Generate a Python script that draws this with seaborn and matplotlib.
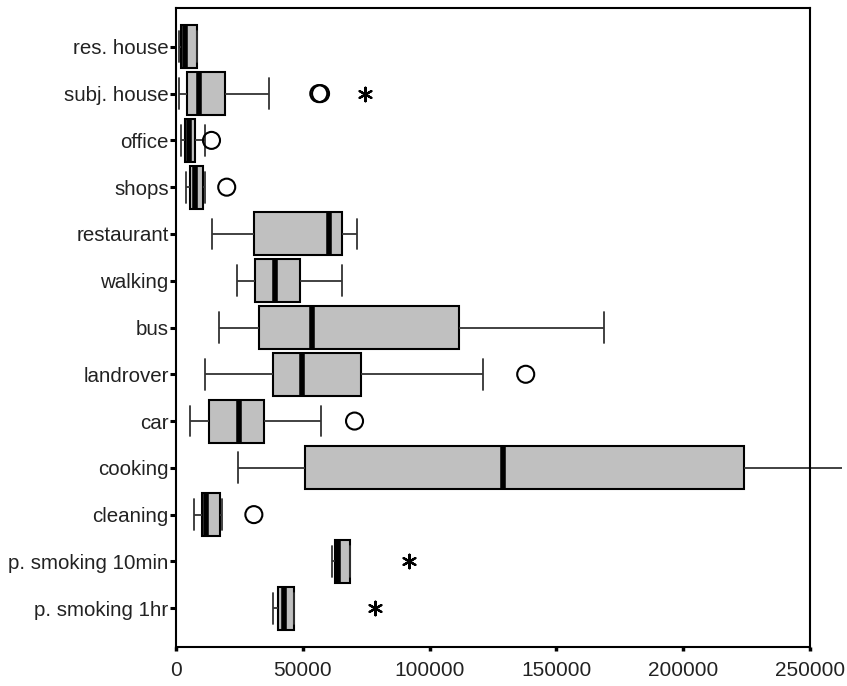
import numpy as np
import pandas as pd
import matplotlib
matplotlib.use("Agg")
import matplotlib.pyplot as plt
import seaborn as sns

categories = ["res. house", "subj. house", "office", "shops", "restaurant",
              "walking", "bus", "landrover", "car", "cooking", "cleaning",
              "p. smoking 10min", "p. smoking 1hr"]
whisker_low = [1000, 1300, 2000, 4000, 14100, 24000, 17100, 11600, 5700, 24600, 7000, 61500, 38200]
q1 = [2000, 4200, 3600, 5600, 30700, 31300, 32900, 38200, 13200, 50900, 10100, 62800, 40400]
median = [3500, 9000, 5300, 7300, 60500, 39200, 53600, 49700, 25000, 129000, 11900, 63800, 42500]
q3 = [8200, 19500, 7300, 10500, 65600, 48700, 111600, 73000, 34600, 224000, 17400, 68700, 46700]
whisker_high = [8200, 36600, 11600, 11600, 71500, 65400, 168800, 121000, 57000, 262500, 18000, 68700, 46700]

circle_cats = ["subj. house", "subj. house", "office", "shops", "landrover", "car", "cleaning"]
circle_vals = [56300, 57000, 14000, 20000, 137900, 70400, 30700]
star_cats = ["subj. house", "p. smoking 10min", "p. smoking 1hr"]
star_vals = [74400, 91800, 78300]

xticks = [0, 50000, 100000, 150000, 200000, 250000]

rows = []
for c, a, b, m, d, e in zip(categories, whisker_low, q1, median, q3, whisker_high):
    for v in (a, b, m, d, e):
        rows.append({"category": c, "value": v})
df = pd.DataFrame(rows)

sns.set_style("white")
plt.rcParams["font.family"] = ["Liberation Sans", "DejaVu Sans"]

fig = plt.figure(figsize=(8.47, 6.86), dpi=100)
ax = fig.add_axes([176 / 847, 1 - 647 / 686, (810 - 176) / 847, (647 - 8) / 686])

sns.boxplot(data=df, x="value", y="category", order=categories, orient="h",
            whis=(0, 100), width=0.92, color="#c0c0c0", saturation=1,
            linecolor="black", linewidth=1.5, showfliers=False,
            medianprops=dict(color="black", linewidth=4),
            whiskerprops=dict(color="#333333", linewidth=1.3),
            capprops=dict(color="#333333", linewidth=1.3),
            capwidths=0.66,
            ax=ax)

for ln in ax.lines:
    x = np.asarray(ln.get_xdata(), dtype=float)
    y = np.asarray(ln.get_ydata(), dtype=float)
    if len(x) == 2 and x[0] != x[1] and y[0] == y[1]:
        ln.set_clip_on(False)

cpos = [categories.index(c) for c in circle_cats]
spos = [categories.index(c) for c in star_cats]
ax.scatter(circle_vals, cpos, marker="o", s=150, facecolor="none",
           edgecolor="black", linewidth=1.5, zorder=5)
ax.scatter(star_vals, spos, marker=(6, 2, 0), s=95, color="black",
           linewidth=1.6, zorder=5)

ax.set_xlim(0, 250000)
ax.set_ylim(12.83, -0.83)
ax.set_xticks(xticks)
ax.set_xticklabels([str(t) for t in xticks])
ax.set_xlabel("")
ax.set_ylabel("")

for sp in ax.spines.values():
    sp.set_visible(True)
    sp.set_color("black")
    sp.set_linewidth(1.5)

ax.tick_params(axis="y", direction="out", length=4.5, width=2.2, color="black",
               labelsize=14.8, pad=0.8, left=True)
ax.tick_params(axis="x", direction="out", length=3, width=2.5, color="black",
               labelsize=15, pad=7, bottom=True)
for lab in ax.get_xticklabels() + ax.get_yticklabels():
    lab.set_color("#222222")

fig.savefig("out.png", dpi=100)
